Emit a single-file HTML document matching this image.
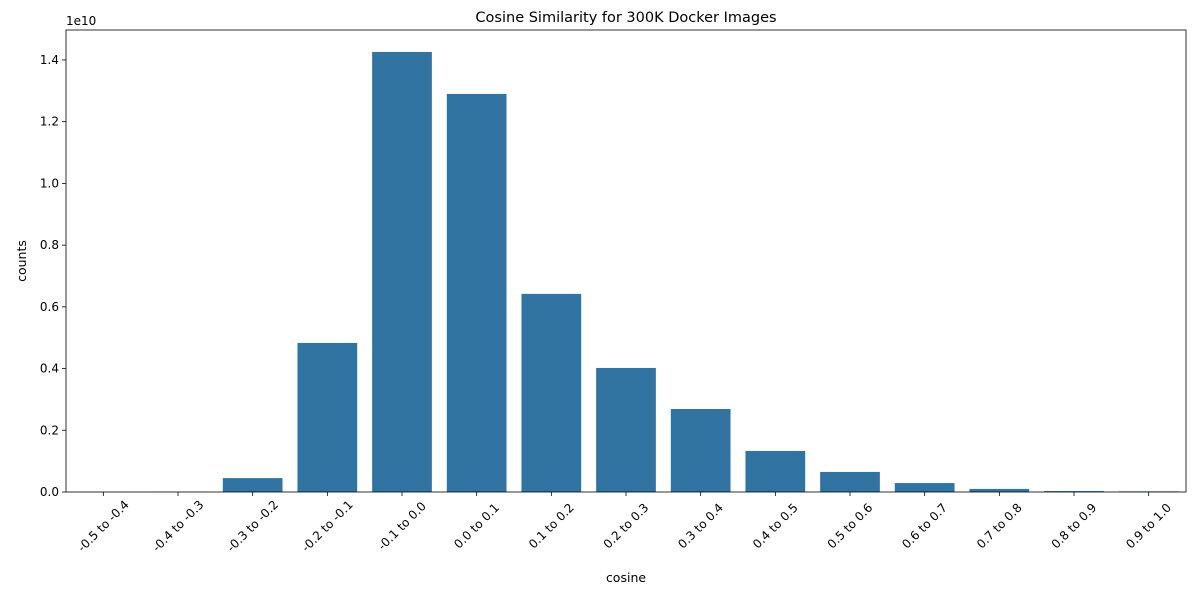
<!DOCTYPE html>
<html><head><meta charset="utf-8"><style>
body{margin:0;background:#fff;font-family:"Liberation Sans","DejaVu Sans",sans-serif;}
svg text{font-family:"DejaVu Sans","Liberation Sans",sans-serif;fill:#000;}
</style></head><body>
<svg id="chart" width="1200" height="600" xmlns="http://www.w3.org/2000/svg"></svg>
<script>
const categories=["-0.5 to -0.4","-0.4 to -0.3","-0.3 to -0.2","-0.2 to -0.1","-0.1 to 0.0","0.0 to 0.1","0.1 to 0.2","0.2 to 0.3","0.3 to 0.4","0.4 to 0.5","0.5 to 0.6","0.6 to 0.7","0.7 to 0.8","0.8 to 0.9","0.9 to 1.0"];
const counts=[0.0003,0.0005,0.045,0.483,1.426,1.29,0.642,0.402,0.269,0.133,0.065,0.029,0.01,0.003,0.002];
const yTicks=[0,0.2,0.4,0.6,0.8,1.0,1.2,1.4];
const yTickLabels=["0.0","0.2","0.4","0.6","0.8","1.0","1.2","1.4"];
const svg=document.getElementById('chart');
const NS='http://www.w3.org/2000/svg';
const L=66,R=1186,T=30,B=492,yMax=1.4971;
function y(v){return B-(v/yMax)*(B-T);}
const band=(R-L)/categories.length;
function xc(i){return L+band*(i+0.5);}
function mk(tag,attrs,parent){const e=document.createElementNS(NS,tag);for(const k in attrs)e.setAttribute(k,attrs[k]);(parent||svg).appendChild(e);return e;}
categories.forEach((c,i)=>{
  const r=mk('rect',{x:xc(i)-band*0.4,y:y(counts[i]),width:band*0.8,height:B-y(counts[i]),fill:'#3274a1'});
  
  
  mk('line',{x1:xc(i),x2:xc(i),y1:B,y2:B+4,stroke:'#000','stroke-width':0.8});
  const t=mk('text',{transform:`translate(${xc(i)},${B+34}) rotate(-45)`,'text-anchor':'middle','font-size':12,dy:4});
  t.textContent=c;
  
  
});
yTicks.forEach((v,i)=>{
  mk('line',{x1:L-4,x2:L,y1:y(v),y2:y(v),stroke:'#000','stroke-width':0.8});
  const t=mk('text',{x:L-7,y:y(v)+4,'text-anchor':'end','font-size':12});
  t.textContent=yTickLabels[i];
  
  
});
const frame=mk('rect',{x:L,y:T,width:R-L,height:B-T,fill:'none',stroke:'#000','stroke-width':0.8});


const ex=mk('text',{x:L,y:T-5,'font-size':12});ex.textContent='1e10';


const ti=mk('text',{x:(L+R)/2,y:T-8,'text-anchor':'middle','font-size':14.5});ti.textContent='Cosine Similarity for 300K Docker Images';


const xl=mk('text',{x:(L+R)/2,y:582,'text-anchor':'middle','font-size':12.5});xl.textContent='cosine';


const yl=mk('text',{transform:`translate(26,${(T+B)/2}) rotate(-90)`,'text-anchor':'middle','font-size':12.5});yl.textContent='counts';


</script>
</body></html>
